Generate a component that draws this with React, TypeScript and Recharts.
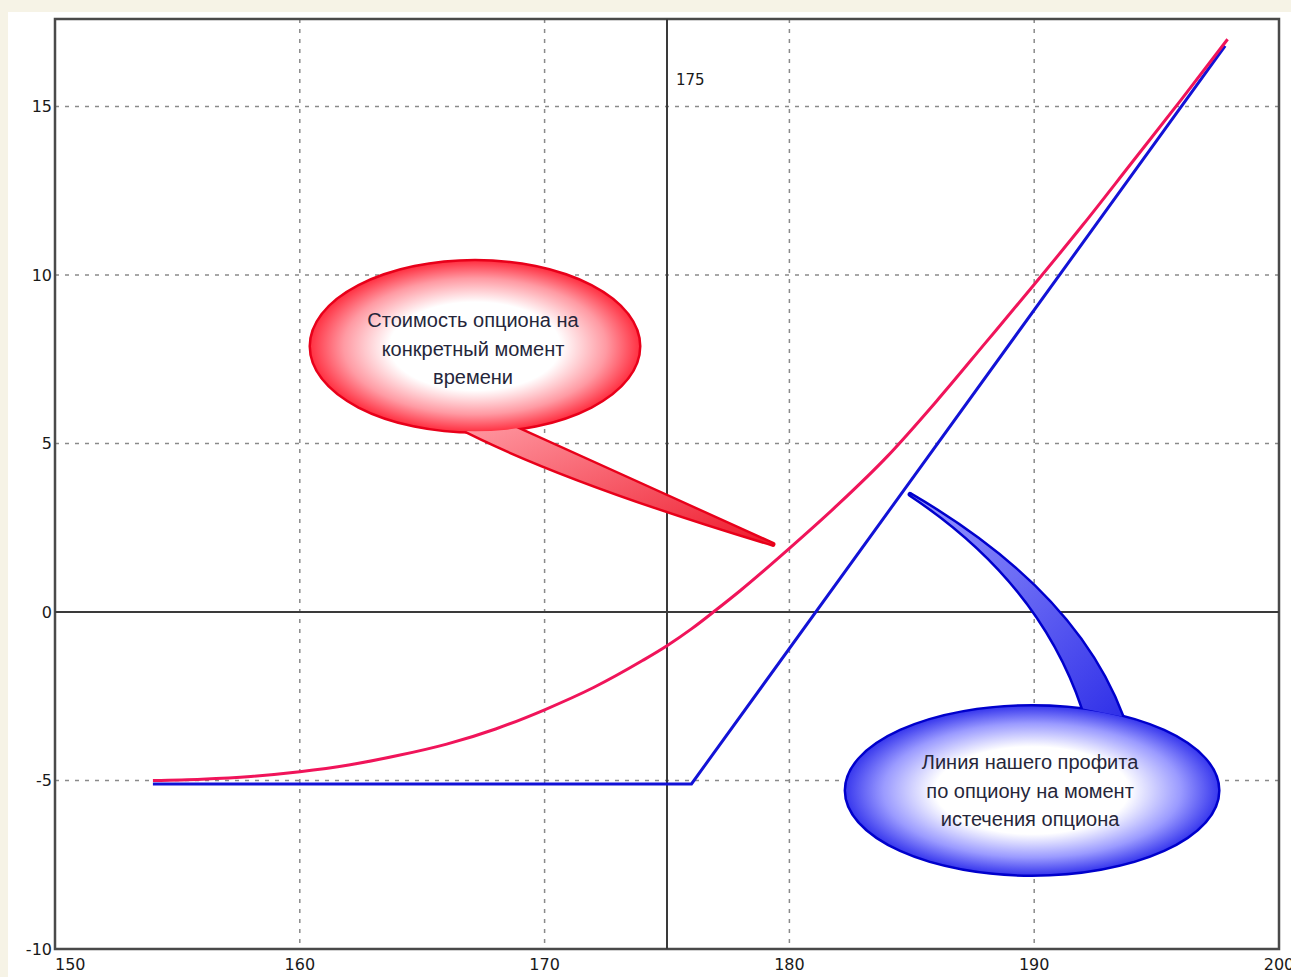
import React from "react";
import {
  LineChart,
  Line,
  XAxis,
  YAxis,
  CartesianGrid,
  ReferenceLine,
  ReferenceArea,
  ReferenceDot,
} from "recharts";

// underlying price (x) and option value at a given moment (red)
const priceX = [154, 156, 158, 160, 162, 164, 166, 168, 170, 172, 174, 175, 176, 177, 178, 180, 182, 184, 186, 188, 190, 192, 194, 196, 197.9];
const optionValue = [-5.0, -4.96, -4.88, -4.74, -4.54, -4.26, -3.92, -3.47, -2.9, -2.24, -1.44, -1.0, -0.5, 0.06, 0.64, 1.89, 3.2, 4.62, 6.25, 7.98, 9.72, 11.5, 13.35, 15.2, 17.0];

// profit at expiration (blue)
const expiryX = [154, 176, 197.8];
const expiryProfit = [-5.1, -5.1, 16.8];

const xTicks = [150, 160, 170, 180, 190, 200];
const yTicks = [-10, -5, 0, 5, 10, 15];
const strike = 175;

const redCallout = ["Стоимость опциона на", "конкретный момент", "времени"];
const blueCallout = ["Линия нашего профита", "по опциону на момент", "истечения опциона"];

const valueData = priceX.map((x, i) => ({ x, y: optionValue[i] }));
const expiryData = expiryX.map((x, i) => ({ x, y: expiryProfit[i] }));

const tickFont = { fontFamily: "DejaVu Sans", fontSize: 16, fill: "#1a1a1a" };

const XTick = ({ x, y, payload }: any) => (
  <text
    x={x}
    y={y}
    dy="0.75em"
    textAnchor={payload.value === 150 ? "start" : "middle"}
    {...tickFont}
  >
    {payload.value}
  </text>
);

const YTick = ({ x, y, payload }: any) => (
  <text x={x} y={y} dy="0.35em" textAnchor="end" {...tickFont}>
    {payload.value}
  </text>
);

// speech balloon drawn around the point its tail touches
const makeBalloon =
  (opts: {
    id: string;
    ex: number;
    ey: number;
    rx: number;
    ry: number;
    tail: string;
    stroke: string;
    edge: string;
    mid: string;
    tailFill: string;
    lines: string[];
    tx: number;
    ty: number;
    lh: number;
  }) =>
  (props: any) => {
    const { cx, cy } = props;
    if (cx == null || cy == null) return null;
    return (
      <g transform={`translate(${cx},${cy})`}>
        <defs>
          <radialGradient id={`${opts.id}-g`} cx="50%" cy="50%" r="50%">
            <stop offset="0%" stopColor="#ffffff" />
            <stop offset="52%" stopColor="#ffffff" />
            <stop offset="80%" stopColor={opts.mid} />
            <stop offset="100%" stopColor={opts.edge} />
          </radialGradient>
          <linearGradient id={`${opts.id}-t`} x1="0" y1="0" x2="1" y2="1">
            <stop offset="0%" stopColor={opts.mid} />
            <stop offset="100%" stopColor={opts.tailFill} />
          </linearGradient>
        </defs>
        <g stroke={opts.stroke} strokeWidth={5} strokeLinejoin="round">
          <ellipse cx={opts.ex} cy={opts.ey} rx={opts.rx} ry={opts.ry} fill={opts.stroke} />
          <path d={opts.tail} fill={opts.stroke} />
        </g>
        <path d={opts.tail} fill={`url(#${opts.id}-t)`} />
        <ellipse cx={opts.ex} cy={opts.ey} rx={opts.rx} ry={opts.ry} fill={`url(#${opts.id}-g)`} />
        {opts.lines.map((t, i) => (
          <text
            key={i}
            x={opts.tx}
            y={opts.ty + i * opts.lh}
            textAnchor="middle"
            dominantBaseline="central"
            fontFamily="Liberation Sans"
            fontSize={20}
            fill="#26263a"
          >
            {t}
          </text>
        ))}
      </g>
    );
  };

const RedBalloon = makeBalloon({
  id: "red",
  ex: -298,
  ey: -198,
  rx: 164,
  ry: 85,
  tail: "M -318 -119 Q -213 -64 0 0 Q -163 -74 -263 -119 Z",
  stroke: "#e8001a",
  edge: "#ff3344",
  mid: "#ff9aa3",
  tailFill: "#ee1a2c",
  lines: redCallout,
  tx: -300,
  ty: -224,
  lh: 28.5,
});

const BlueBalloon = makeBalloon({
  id: "blue",
  ex: 122,
  ey: 296,
  rx: 186,
  ry: 84,
  tail: "M 173 214 Q 130 86 0 0 Q 165 96 212 222 Z",
  stroke: "#0000cc",
  edge: "#3a3aee",
  mid: "#9a9aff",
  tailFill: "#3030e8",
  lines: blueCallout,
  tx: 120,
  ty: 268,
  lh: 28.5,
});

const StrikeLabel = (props: any) => {
  const vb = props.viewBox || {};
  return (
    <text x={(vb.x ?? 0) + 9} y={(vb.y ?? 0) + 61} dy="0.35em" {...tickFont} fontSize={15}>
      {strike}
    </text>
  );
};

export default function App() {
  return (
    <div
      style={{
        position: "absolute",
        left: 0,
        top: 0,
        width: 1291,
        height: 977,
        background: "#f6f3e6",
        overflow: "hidden",
      }}
    >
      <div
        style={{
          position: "absolute",
          left: 8,
          top: 12,
          width: 1283,
          height: 965,
          background: "#ffffff",
        }}
      />
      <div style={{ position: "absolute", left: 0, top: 0 }}>
        <LineChart
          width={1291}
          height={977}
          margin={{ top: 19, right: 12, bottom: 0, left: 0 }}
        >
          <CartesianGrid
            stroke="#8a8a8a"
            strokeWidth={1.5}
            strokeDasharray="4 6"
          />
          <XAxis
            type="number"
            dataKey="x"
            domain={[150, 200]}
            ticks={xTicks}
            allowDataOverflow
            axisLine={false}
            tickLine={false}
            tickSize={4}
            tickMargin={5}
            height={28}
            tick={<XTick />}
          />
          <YAxis
            type="number"
            dataKey="y"
            domain={[-10, 17.6]}
            ticks={yTicks}
            allowDataOverflow
            axisLine={false}
            tickLine={false}
            tickSize={3}
            tickMargin={0}
            width={55}
            tick={<YTick />}
          />
          <ReferenceLine y={0} stroke="#3a3a3a" strokeWidth={2} />
          <ReferenceLine x={strike} stroke="#3a3a3a" strokeWidth={2} label={<StrikeLabel />} />
          <ReferenceArea
            x1={150}
            x2={200}
            y1={-10}
            y2={17.6}
            fill="none"
            fillOpacity={0}
            stroke="#4a4a4a"
            strokeWidth={2.5}
          />
          <Line
            data={expiryData}
            dataKey="y"
            type="linear"
            stroke="#1212d6"
            strokeWidth={3}
            dot={false}
            isAnimationActive={false}
          />
          <Line
            data={valueData}
            dataKey="y"
            type="monotone"
            stroke="#f0145a"
            strokeWidth={3}
            dot={false}
            isAnimationActive={false}
          />
          <ReferenceDot x={179.33} y={2.01} r={0} shape={RedBalloon} ifOverflow="visible" />
          <ReferenceDot x={184.93} y={3.49} r={0} shape={BlueBalloon} ifOverflow="visible" />
        </LineChart>
      </div>
    </div>
  );
}
